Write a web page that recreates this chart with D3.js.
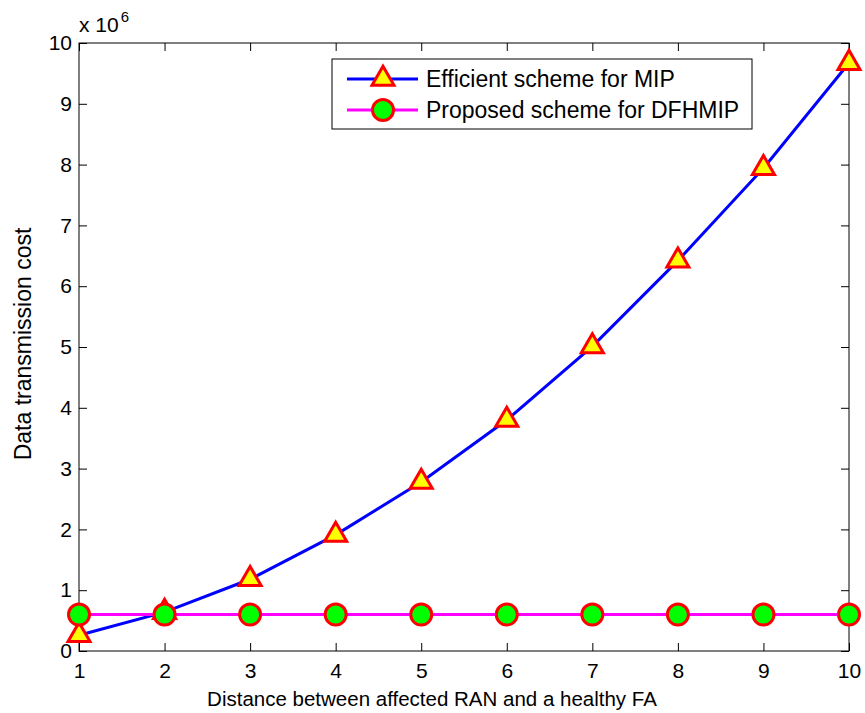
<!DOCTYPE html>
<html>
<head>
<meta charset="utf-8">
<script src="https://cdn.jsdelivr.net/npm/d3@7"></script>
<style>
  body { margin: 0; background: #fff; }
  text { font-family: "Liberation Sans", Arial, Helvetica, sans-serif; fill: #000; }
</style>
</head>
<body>
<script>
// data (values in units of 10^6)
let distance = [1, 2, 3, 4, 5, 6, 7, 8, 9, 10]
let efficientMIP = [0.26, 0.64, 1.18, 1.91, 2.78, 3.80, 5.01, 6.42, 7.94, 9.67]
let proposedDFHMIP = [0.6, 0.6, 0.6, 0.6, 0.6, 0.6, 0.6, 0.6, 0.6, 0.6]
let xTicks = [1, 2, 3, 4, 5, 6, 7, 8, 9, 10]
let yTicks = [0, 1, 2, 3, 4, 5, 6, 7, 8, 9, 10]
let seriesNames = ['Efficient scheme for MIP', 'Proposed scheme for DFHMIP']

let W = 865, H = 713
let margin = { top: 43, right: 16, bottom: 62, left: 79 }
let innerW = W - margin.left - margin.right
let innerH = H - margin.top - margin.bottom

let svg = d3.select('body').append('svg').attr('width', W).attr('height', H)
let g = svg.append('g').attr('transform', `translate(${margin.left},${margin.top})`)

let x = d3.scaleLinear().domain([1, 10]).range([0, innerW])
let y = d3.scaleLinear().domain([0, 10]).range([innerH, 0])

// box
g.append('rect').attr('width', innerW).attr('height', innerH)
    .attr('fill', 'none').attr('stroke', '#000').attr('stroke-width', 1)

// ticks on all four sides, pointing inward
let tickLen = 8
let axisStyle = sel => {
    sel.select('.domain').remove()
    sel.selectAll('.tick line').attr('stroke', '#000')
    sel.selectAll('.tick text').style('font-size', '21px').attr('fill', '#000')
}
g.append('g').attr('transform', `translate(0,${innerH})`)
    .call(d3.axisBottom(x).tickValues(xTicks).tickSize(-tickLen).tickPadding(12).tickFormat(d3.format('d')))
    .call(axisStyle)
g.append('g')
    .call(d3.axisLeft(y).tickValues(yTicks).tickSize(-tickLen).tickPadding(7).tickFormat(d3.format('d')))
    .call(axisStyle)
g.append('g')
    .call(d3.axisTop(x).tickValues(xTicks).tickSize(-tickLen).tickFormat(''))
    .call(axisStyle)
g.append('g').attr('transform', `translate(${innerW},0)`)
    .call(d3.axisRight(y).tickValues(yTicks).tickSize(-tickLen).tickFormat(''))
    .call(axisStyle)

// exponent label
let expo = g.append('text').attr('x', 0).attr('y', -11).style('font-size', '21px')
expo.append('tspan').text('x 10')
expo.append('tspan').attr('dx', 2).attr('dy', -10).style('font-size', '15px').text('6')

// axis titles
svg.append('text').attr('x', 432).attr('y', 706)
    .attr('text-anchor', 'middle').style('font-size', '20.5px')
    .text('Distance between affected RAN and a healthy FA')
svg.append('text').attr('transform', 'translate(31,344) rotate(-90)')
    .attr('text-anchor', 'middle').style('font-size', '23px')
    .text('Data transmission cost')

let line = d3.line().x((d, i) => x(distance[i])).y(d => y(d))
let triangle = d3.symbol().type(d3.symbolTriangle).size(210)

// efficient scheme
g.append('path').datum(efficientMIP).attr('d', line)
    .attr('fill', 'none').attr('stroke', '#0000ff').attr('stroke-width', 3)
// proposed scheme
g.append('path').datum(proposedDFHMIP).attr('d', line)
    .attr('fill', 'none').attr('stroke', '#ff00ff').attr('stroke-width', 3)

g.selectAll('.tri').data(efficientMIP).enter().append('path')
    .attr('class', 'tri')
    .attr('transform', (d, i) => `translate(${x(distance[i])},${y(d)})`)
    .attr('d', triangle)
    .attr('fill', '#ffff00').attr('stroke', '#ff0000').attr('stroke-width', 3)

g.selectAll('.dot').data(proposedDFHMIP).enter().append('circle')
    .attr('class', 'dot')
    .attr('cx', (d, i) => x(distance[i])).attr('cy', d => y(d)).attr('r', 10.5)
    .attr('fill', '#00ff00').attr('stroke', '#ff0000').attr('stroke-width', 3)

// legend
let lg = svg.append('g').attr('transform', 'translate(332,59)')
lg.append('rect').attr('width', 420).attr('height', 70)
    .attr('fill', '#fff').attr('stroke', '#000').attr('stroke-width', 1)
let rows = [
    { name: seriesNames[0], color: '#0000ff', mark: 'tri', yy: 20 },
    { name: seriesNames[1], color: '#ff00ff', mark: 'dot', yy: 51 }
]
rows.forEach(r => {
    lg.append('line').attr('x1', 15).attr('x2', 86).attr('y1', r.yy).attr('y2', r.yy)
        .attr('stroke', r.color).attr('stroke-width', 3)
    if (r.mark === 'tri') {
        lg.append('path').attr('transform', `translate(51,${r.yy})`).attr('d', triangle)
            .attr('fill', '#ffff00').attr('stroke', '#ff0000').attr('stroke-width', 3)
    } else {
        lg.append('circle').attr('cx', 51).attr('cy', r.yy).attr('r', 10.5)
            .attr('fill', '#00ff00').attr('stroke', '#ff0000').attr('stroke-width', 3)
    }
    lg.append('text').attr('x', 94).attr('y', r.yy + 8).style('font-size', '23px').text(r.name)
})
</script>
</body>
</html>
